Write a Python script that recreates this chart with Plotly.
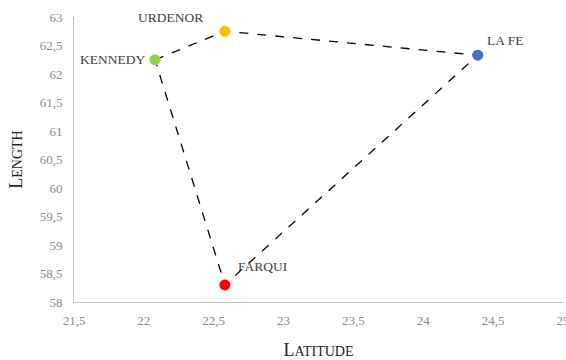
import plotly.graph_objects as go

names = ["KENNEDY", "URDENOR", "LA FE", "FARQUI"]
latitude = [22.08, 22.58, 24.39, 22.58]
length = [62.25, 62.75, 62.33, 58.30]
colors = ["#92D050", "#FFC000", "#4472C4", "#FF0000"]

# polygon order: Kennedy -> Urdenor -> La Fe -> Farqui -> Kennedy
order = [0, 1, 2, 3, 0]

x_ticks = [21.5, 22, 22.5, 23, 23.5, 24, 24.5, 25]
x_ticktext = ["21,5", "22", "22,5", "23", "23,5", "24", "24,5", "25"]
y_ticks = [58, 58.5, 59, 59.5, 60, 60.5, 61, 61.5, 62, 62.5, 63]
y_ticktext = ["58", "58,5", "59", "59,5", "60", "60,5", "61", "61,5", "62", "62,5", "63"]

serif = "Liberation Serif, Times New Roman, serif"

# label placement styles (anchor, pixel offsets)
label_style = [
    dict(xanchor="right", xshift=-8, yshift=0),
    dict(xanchor="right", xshift=-20, yshift=14),
    dict(xanchor="left", xshift=7, yshift=15),
    dict(xanchor="left", xshift=11, yshift=18),
]

fig = go.Figure()
fig.add_trace(go.Scatter(
    x=[latitude[i] for i in order], y=[length[i] for i in order],
    mode="lines", line=dict(color="black", width=1.3, dash="dash"),
    hoverinfo="skip", showlegend=False, cliponaxis=False))
fig.add_trace(go.Scatter(
    x=latitude, y=length, mode="markers",
    marker=dict(color=colors, size=11), showlegend=False, cliponaxis=False))

for n, xv, yv, st in zip(names, latitude, length, label_style):
    fig.add_annotation(x=xv, y=yv, text=n, showarrow=False, yanchor="middle",
                       font=dict(family=serif, size=13.5, color="#404040"), **st)

fig.update_layout(
    width=566, height=360,
    margin=dict(l=74, r=3, t=17, b=58),
    plot_bgcolor="white", paper_bgcolor="white",
    font=dict(family=serif),
    xaxis=dict(range=[21.5, 25], tickvals=x_ticks, ticktext=x_ticktext, automargin=False,
               showgrid=False, zeroline=False, showline=True, linecolor="#BFBFBF",
               linewidth=1, ticks="", ticklabelstandoff=6, ticklabeloverflow="allow",
               tickfont=dict(family=serif, size=13, color="#8C8C8C"),
               title=dict(text="L<span style='font-size:14px'>ATITUDE</span>",
                          font=dict(family=serif, size=18, color="#262626"), standoff=17)),
    yaxis=dict(range=[58, 63], tickvals=y_ticks, ticktext=y_ticktext, automargin=False,
               showgrid=False, zeroline=False, showline=True, linecolor="#BFBFBF",
               linewidth=1, ticks="", ticklabelstandoff=8,
               tickfont=dict(family=serif, size=13, color="#8C8C8C"),
               title=dict(text="L<span style='font-size:14px'>ENGTH</span>",
                          font=dict(family=serif, size=18, color="#262626"), standoff=12)),
)

fig.write_html("out.html", config={"displayModeBar": False},
               post_script="document.body.style.margin='0';document.body.style.overflow='hidden';")
